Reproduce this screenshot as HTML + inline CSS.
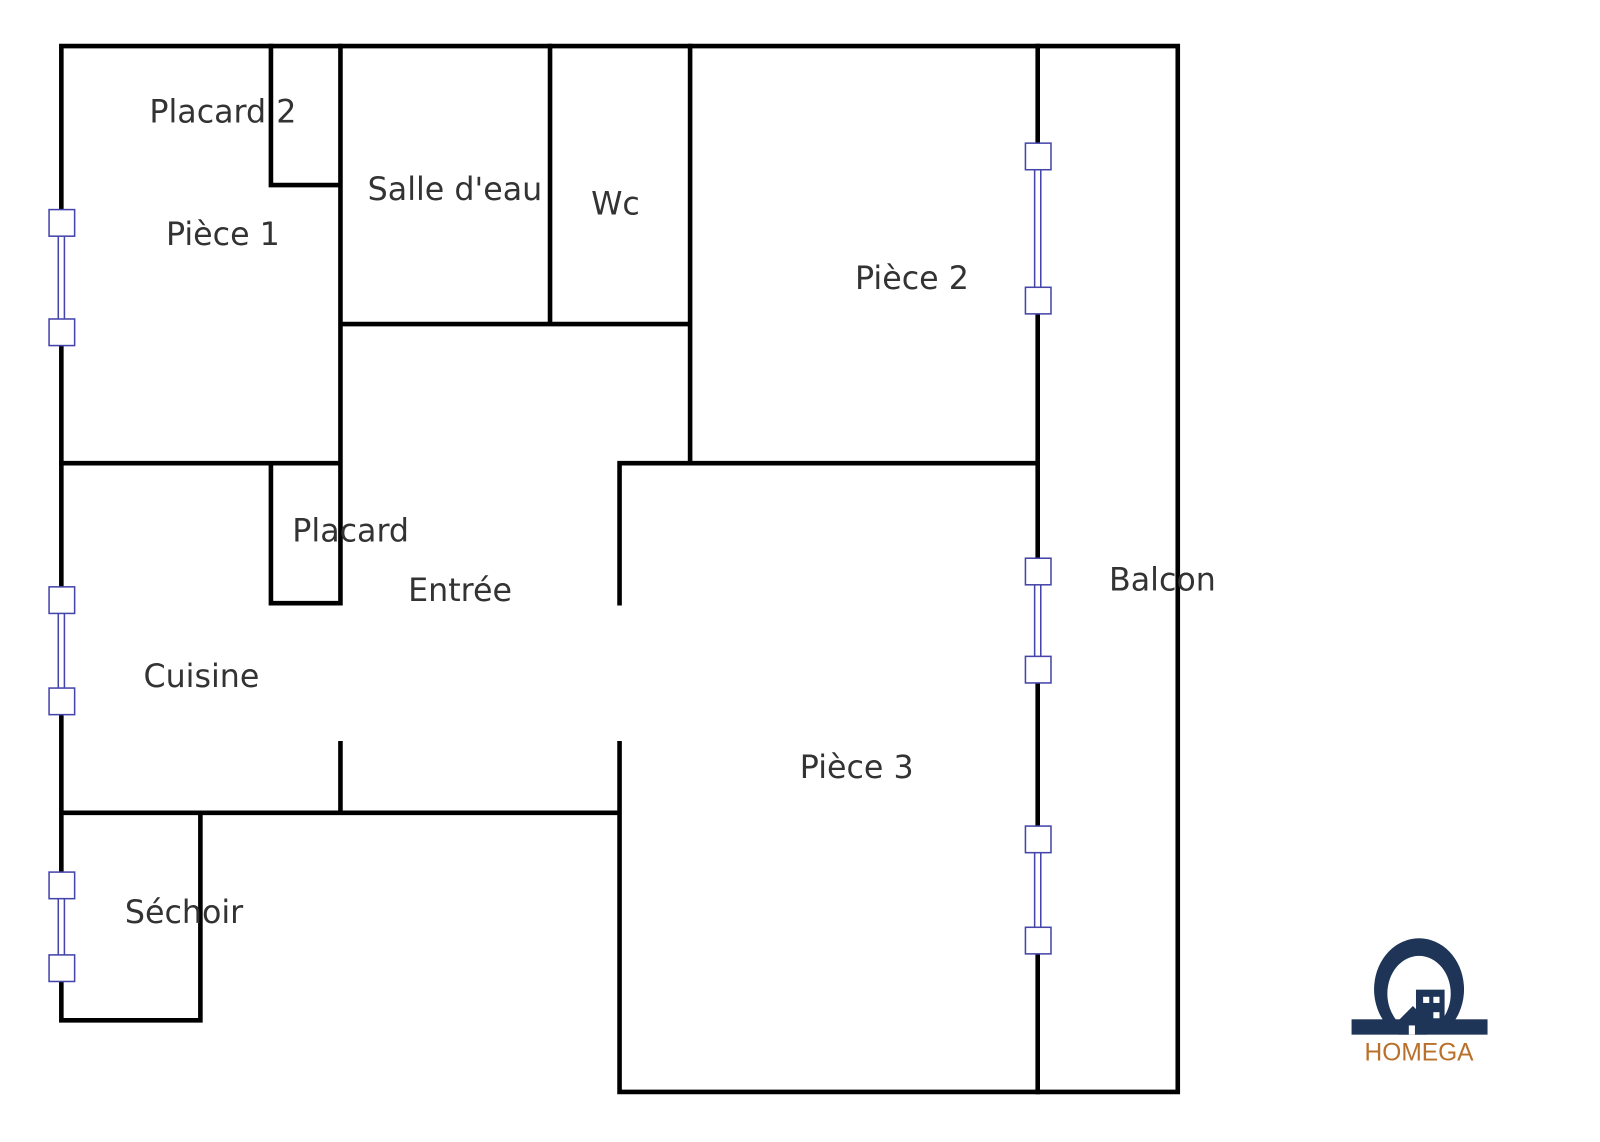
<!DOCTYPE html>
<html><head><meta charset="utf-8"><style>
html,body{margin:0;padding:0;background:#fff;}
svg{display:block}
text{font-family:"DejaVu Sans","Liberation Sans",sans-serif;fill:#333;font-size:31px;text-anchor:middle;dominant-baseline:central}
</style></head><body>
<svg width="1600" height="1142" viewBox="0 0 1565 1117" xmlns="http://www.w3.org/2000/svg">
<g stroke="#000" stroke-width="4.5" fill="none" stroke-linecap="square">
<path d="M60 45H1152V1068H606V727M606 590V453H1015M60 45V998H196V795M60 795H606M333 795V727"/>
<path d="M265 45V181H333M333 45V453M60 453H333M265 453V590H333V453M333 317H675M538 45V317M675 45V453M1015 45V1068"/>
</g>
<g fill="#fff">
<rect x="50" y="230" width="20" height="90"/><rect x="50" y="597" width="20" height="84"/><rect x="50" y="876" width="20" height="66"/>
<rect x="1005" y="165" width="20" height="124"/><rect x="1005" y="569" width="20" height="81"/><rect x="1005" y="833" width="20" height="83"/>
</g>
<g stroke="#4444aa" stroke-width="1.5" fill="#fff">
<path d="M57 218V325M63 218V325M57 587V686M63 587V686M57 866V947M63 866V947M1012 153V294M1018 153V294M1012 559V655M1018 559V655M1012 821V920M1018 821V920"/>
<rect x="48" y="205" width="25" height="26"/><rect x="48" y="312" width="25" height="26"/>
<rect x="48" y="574" width="25" height="26"/><rect x="48" y="673" width="25" height="26"/>
<rect x="48" y="853" width="25" height="26"/><rect x="48" y="934" width="25" height="26"/>
<rect x="1003" y="140" width="25" height="26"/><rect x="1003" y="281" width="25" height="26"/>
<rect x="1003" y="546" width="25" height="26"/><rect x="1003" y="642" width="25" height="26"/>
<rect x="1003" y="808" width="25" height="26"/><rect x="1003" y="907" width="25" height="26"/>
</g>
<text x="218" y="110">Placard 2</text>
<text x="445" y="186">Salle d'eau</text>
<text x="602" y="200">Wc</text>
<text x="218" y="230">Pièce 1</text>
<text x="892" y="273">Pièce 2</text>
<text x="343" y="520">Placard</text>
<text x="450" y="578">Entrée</text>
<text x="1137" y="568">Balcon</text>
<text x="197" y="662">Cuisine</text>
<text x="838" y="751">Pièce 3</text>
<text x="180" y="893">Séchoir</text>
<g fill="#1f3557">
<path d="M1353 998 A44 50 0 1 1 1423 998 L1410 998 A31 37 0 1 0 1366 998Z"/>
<rect x="1322" y="997" width="133" height="15"/>
<rect x="1385" y="968" width="28" height="40"/>
<path d="M1368 998L1382 984L1396 998V1012H1368Z"/>
</g>
<g fill="#fff"><rect x="1392" y="975" width="6" height="6"/><rect x="1402" y="975" width="6" height="6"/><rect x="1402" y="990" width="6" height="6"/><rect x="1378" y="1003" width="6" height="9"/></g>
<text x="1388" y="1030" style="fill:#b8702a;font-size:24px;font-family:'Liberation Sans',sans-serif">HOMEGA</text>
</svg>
</body></html>
